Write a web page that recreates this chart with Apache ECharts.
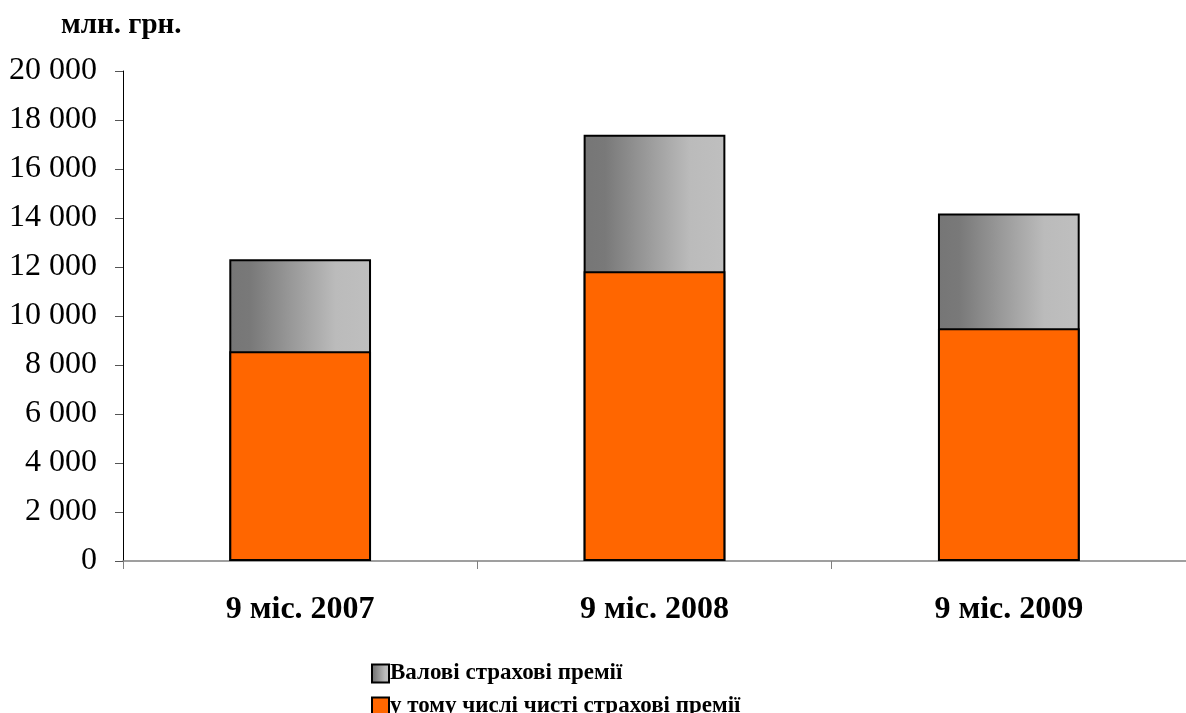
<!DOCTYPE html>
<html>
<head>
<meta charset="utf-8">
<script src="https://cdn.jsdelivr.net/npm/echarts@6/dist/echarts.min.js"></script>
<style>
html,body{margin:0;padding:0;background:#fff;}
#chart{width:1186px;height:713px;}
</style>
</head>
<body>
<div id="chart"></div>
<script>
const categories = ['9 міс. 2007', '9 міс. 2008', '9 міс. 2009'];
const grossPremiums = [12320, 17400, 14180];
const netPremiums = [8560, 11830, 9500];
const seriesNames = ['Валові страхові премії', 'у тому числі чисті страхові премії'];
const unitLabel = 'млн. грн.';

const chart = echarts.init(document.getElementById('chart'));
const serif = '"Liberation Serif", "DejaVu Serif", serif';
const grayGradient = new echarts.graphic.LinearGradient(0, 0, 1, 0, [
  {offset: 0, color: '#767676'},
  {offset: 0.15, color: '#797979'},
  {offset: 0.75, color: '#bbbbbb'},
  {offset: 1, color: '#bfbfbf'}
]);

const legendText = {fontFamily: serif, fontWeight: 'bold', fontSize: 23, color: '#000', padding: [0, 0, 0, -4]};

chart.setOption({
  animation: false,
  backgroundColor: '#fff',
  title: {
    text: unitLabel,
    left: 56, top: 6,
    textStyle: {fontFamily: serif, fontWeight: 'bold', fontSize: 29, color: '#000'}
  },
  legend: [
    {
      data: [seriesNames[0]], left: 366, top: 657, orient: 'vertical',
      icon: 'rect', itemWidth: 17, itemHeight: 18,
      textStyle: legendText
    },
    {
      data: [seriesNames[1]], left: 366, top: 690, orient: 'vertical',
      icon: 'rect', itemWidth: 17, itemHeight: 18,
      textStyle: legendText
    }
  ],
  grid: {left: 123, top: 71, width: 1068, height: 490},
  xAxis: {
    type: 'category',
    data: categories,
    boundaryGap: true,
    axisLine: {lineStyle: {color: '#808080', width: 1.5}},
    axisTick: {show: true, length: 8, lineStyle: {color: '#808080'}},
    axisLabel: {
      margin: 33, fontFamily: serif, fontWeight: 'bold', fontSize: 32, color: '#000'
    }
  },
  yAxis: {
    type: 'value',
    min: 0, max: 20000, interval: 2000,
    axisLine: {show: true, lineStyle: {color: '#000', width: 1}},
    axisTick: {show: true, length: 8, lineStyle: {color: '#555'}},
    splitLine: {show: false},
    axisLabel: {
      margin: 26, fontFamily: serif, fontSize: 32, color: '#000',
      formatter: v => String(v).replace(/\B(?=(\d{3})+(?!\d))/g, ' ')
    }
  },
  series: [
    {
      name: seriesNames[0], type: 'bar', data: grossPremiums,
      barWidth: '40%', barGap: '-100%',
      itemStyle: {color: grayGradient, borderColor: '#000', borderWidth: 2}
    },
    {
      name: seriesNames[1], type: 'bar', data: netPremiums,
      barWidth: '40%', barGap: '-100%',
      itemStyle: {color: '#ff6600', borderColor: '#000', borderWidth: 2}
    }
  ]
});
</script>
</body>
</html>
